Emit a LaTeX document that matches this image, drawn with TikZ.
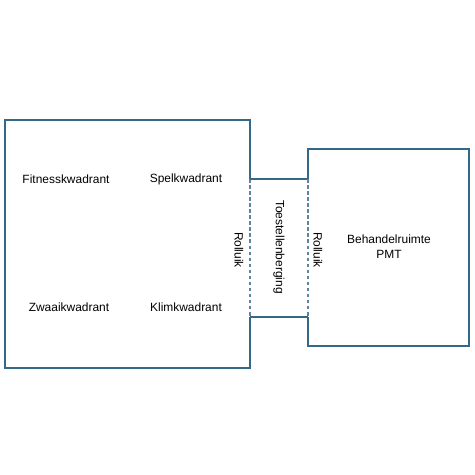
\documentclass[tikz,border=0pt]{standalone}
\usepackage{fontspec}
\setmainfont{Liberation Sans}
\definecolor{wallblue}{RGB}{52,104,134}
\tikzset{
    wall/.style={draw=wallblue, line width=0.8pt},
    shutter/.style={draw=wallblue!80, line width=0.8pt, dash pattern=on 2.5pt off 1.8pt},
    roomlabel/.style={font=\fontsize{8.5}{10.5}\selectfont, align=center}
}
\begin{document}
\begin{tikzpicture}[x=0.025cm, y=-0.025cm]
    \useasboundingbox (0,0) rectangle (475,475);

    % Corners of the walls
    \coordinate (hallTL) at (5,120);
    \coordinate (hallBL) at (5,368);
    \coordinate (hallTR) at (250,120);
    \coordinate (hallBR) at (250,368);
    \coordinate (doorAT) at (250,179);
    \coordinate (doorAB) at (250,317);
    \coordinate (doorBT) at (308,179);
    \coordinate (doorBB) at (308,317);
    \coordinate (pmtTL) at (308,149);
    \coordinate (pmtTR) at (469,149);
    \coordinate (pmtBR) at (469,346);
    \coordinate (pmtBL) at (308,346);

    % Gymzaal
    \draw[wall] (doorAT) -- (hallTR) -- (hallTL) -- (hallBL) -- (hallBR) -- (doorAB);
    \draw[shutter] (doorAT) -- (doorAB);

    % Berging
    \draw[wall] (doorAT) -- (doorBT);
    \draw[wall] (doorAB) -- (doorBB);

    % Behandelruimte
    \draw[wall] (doorBT) -- (pmtTL) -- (pmtTR) -- (pmtBR) -- (pmtBL) -- (doorBB);
    \draw[shutter] (doorBT) -- (doorBB);

    % Labels
    \node[roomlabel] (fitness) at (66,179) {Fitnesskwadrant};
    \node[roomlabel] (spel) at (186,179) {Spelkwadrant};
    \node[roomlabel] (zwaai) at (69,307) {Zwaaikwadrant};
    \node[roomlabel] (klim) at (186,307) {Klimkwadrant};
    \node[roomlabel, rotate=-90] (rolluikA) at (239,250) {Rolluik};
    \node[roomlabel, rotate=-90] (berging) at (279,247) {Toestellenberging};
    \node[roomlabel, rotate=-90] (rolluikB) at (318,250) {Rolluik};
    \node[roomlabel] (pmt) at (389,247) {Behandelruimte\\PMT};
\end{tikzpicture}
\end{document}
